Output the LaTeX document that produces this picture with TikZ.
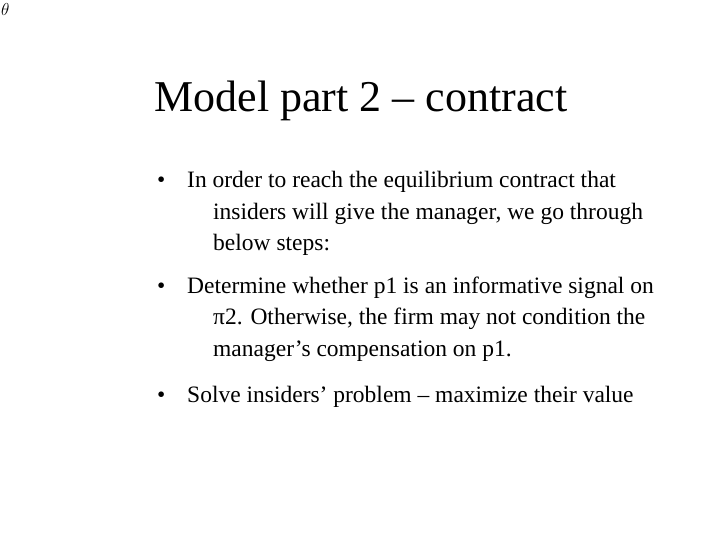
\documentclass[tikz,border=0pt]{standalone}
\usepackage{fontspec}
\setmainfont{Liberation Serif}
\begin{document}
\begin{tikzpicture}[x=1pt,y=-1pt,
  ln/.style={anchor=base west,inner sep=0pt,font=\fontsize{23.5}{28}\selectfont},
  bl/.style={anchor=base west,inner sep=0pt,font=\fontsize{23.5}{28}\selectfont}]
\useasboundingbox[fill=white] (0,0) rectangle (720,540);
\node[anchor=north west,inner sep=0pt,font=\fontsize{16}{18}\selectfont] (th) at (1,3) {$\theta$};
\node[anchor=base,inner sep=0pt,font=\fontsize{44}{48}\selectfont] (title) at (361,112) {Model part 2 -- contract};
\node[bl] (b1) at (157,188) {•};
\node[ln] (l1) at (187,188) {In order to reach the equilibrium contract that};
\node[ln] (l2) at (213,220) {insiders will give the manager, we go through};
\node[ln] (l3) at (213,251) {below steps:};
\node[bl] (b2) at (157,293) {•};
\node[ln] (l4) at (187,293) {Determine whether p1 is an informative signal on};
\node[ln] (l5) at (213,324) {π2. Otherwise, the firm may not condition the};
\node[ln] (l6) at (213,356) {manager’s compensation on p1.};
\node[bl] (b3) at (157,402) {•};
\node[ln] (l7) at (187,402) {Solve insiders’ problem -- maximize their value};
\end{tikzpicture}
\end{document}
